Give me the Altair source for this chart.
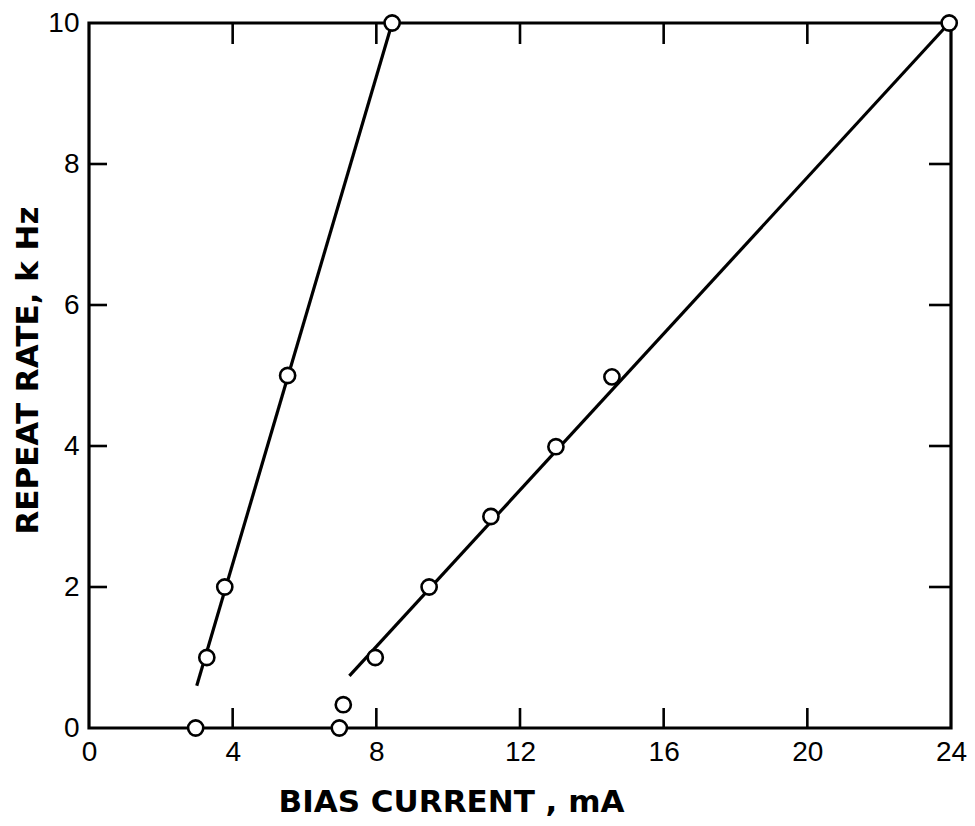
import altair as alt
import pandas as pd

# Data
left_x = [2.97, 3.28, 3.78, 5.53, 8.44]
left_y = [0, 1, 2, 5, 10]
right_x = [6.97, 7.08, 7.97, 9.47, 11.19, 13.0, 14.56, 23.95]
right_y = [0, 0.33, 1, 2, 3, 3.99, 4.98, 10]

left_fit_x = [3.0, 8.44]
left_fit_y = [0.6, 10]
right_fit_x = [7.25, 23.95]
right_fit_y = [0.74, 10]

x_ticks = [0, 4, 8, 12, 16, 20, 24]
y_ticks = [0, 2, 4, 6, 8, 10]
x_inner = [4, 8, 12, 16, 20]
y_inner = [2, 4, 6, 8]

W, H = 862, 705

pts = pd.DataFrame({"x": left_x + right_x,
                    "y": left_y + right_y})
fits = pd.DataFrame({"x": left_fit_x + right_fit_x,
                     "y": left_fit_y + right_fit_y,
                     "s": ["a", "a", "b", "b"]})
xt = pd.DataFrame({"v": x_inner})
yt = pd.DataFrame({"v": y_inner})

xs = alt.Scale(domain=[0, 24], nice=False, zero=False)
ys = alt.Scale(domain=[0, 10], nice=False, zero=False)

LABEL_FONT = "Liberation Sans"
TITLE_FONT = "DejaVu Sans"

x_axis = alt.Axis(values=x_ticks, format="d", ticks=False, domain=False,
                  grid=False,
                  labelFont=LABEL_FONT, labelFontSize=28, labelColor="black",
                  labelPadding=10, labelFlush=False,
                  title="BIAS  CURRENT , mA", titleFont=TITLE_FONT,
                  titleFontSize=31, titleFontWeight="bold", titleColor="black",
                  titleX=362, titleY=74, titleAlign="center",
                  titleBaseline="middle")
y_axis = alt.Axis(values=y_ticks, format="d", ticks=False, domain=False,
                  grid=False,
                  labelFont=LABEL_FONT, labelFontSize=28, labelColor="black",
                  labelPadding=10, labelFlush=False,
                  title="REPEAT  RATE, k Hz", titleFont=TITLE_FONT,
                  titleFontSize=31, titleFontWeight="bold", titleColor="black",
                  titleX=-61, titleY=347, titleAngle=270, titleAlign="center",
                  titleBaseline="middle")

lines = alt.Chart(fits).mark_line(color="black", strokeWidth=3.2).encode(
    x=alt.X("x:Q", scale=xs, axis=x_axis),
    y=alt.Y("y:Q", scale=ys, axis=y_axis),
    detail="s:N",
)

points = alt.Chart(pts).mark_point(shape="circle", filled=False, fill="white",
                                   fillOpacity=1, stroke="black",
                                   strokeWidth=2.6, size=230, opacity=1).encode(
    x=alt.X("x:Q", scale=xs),
    y=alt.Y("y:Q", scale=ys),
)

tick_style = dict(color="black", strokeWidth=2.6)
bottom_ticks = alt.Chart(xt).mark_rule(**tick_style).encode(
    x=alt.X("v:Q", scale=xs), y=alt.value(H), y2=alt.value(H - 20))
top_ticks = alt.Chart(xt).mark_rule(**tick_style).encode(
    x=alt.X("v:Q", scale=xs), y=alt.value(0), y2=alt.value(21))
left_ticks = alt.Chart(yt).mark_rule(**tick_style).encode(
    y=alt.Y("v:Q", scale=ys), x=alt.value(0), x2=alt.value(18))
right_ticks = alt.Chart(yt).mark_rule(**tick_style).encode(
    y=alt.Y("v:Q", scale=ys), x=alt.value(W), x2=alt.value(W - 22))

chart = alt.layer(bottom_ticks, top_ticks, left_ticks, right_ticks,
                  lines, points).properties(
    width=W, height=H,
    autosize=alt.AutoSizeParams(type="none"),
    padding={"left": 81, "top": 15, "right": 16, "bottom": 90},
    background="white",
).configure_view(stroke="black", strokeWidth=3.2)

chart.save("out.html", embed_options={"renderer": "svg", "actions": False})
